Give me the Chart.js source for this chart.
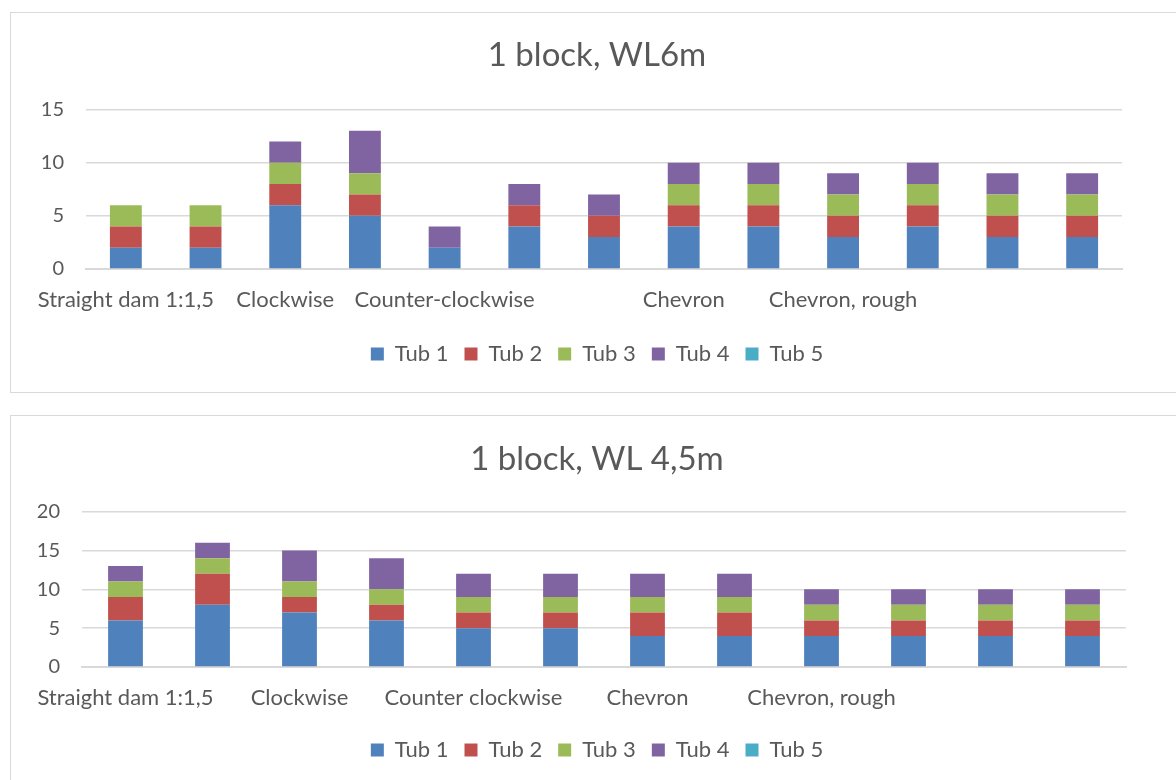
<!DOCTYPE html>
<html>
<head>
<meta charset="utf-8">
<script src="https://cdn.jsdelivr.net/npm/chart.js@4"></script>
<style>
  html, body { margin: 0; padding: 0; background: #fff; overflow: hidden; }
  .box { position: absolute; left: 10px; width: 1172px; border: 1px solid #d9d9d9; background: #fff; }
  #box1 { top: 12px; height: 379px; }
  #box2 { top: 415px; height: 372px; }
</style>
</head>
<body>
<div class="box" id="box1"><canvas class="chart"></canvas></div>
<div class="box" id="box2"><canvas class="chart"></canvas></div>
<script>
var seriesNames = ["Tub 1", "Tub 2", "Tub 3", "Tub 4", "Tub 5"];
var seriesColors = ["#4f81bd", "#c0504d", "#9bbb59", "#8064a2", "#4bacc6"];

// WL 6m
var categories6 = ["Straight dam 1:1,5", "", "Clockwise", "", "Counter-clockwise", "", "", "Chevron", "", "Chevron, rough", "", "", ""];
var tub1_6 = [2, 2, 6, 5, 2, 4, 3, 4, 4, 3, 4, 3, 3];
var tub2_6 = [2, 2, 2, 2, 0, 2, 2, 2, 2, 2, 2, 2, 2];
var tub3_6 = [2, 2, 2, 2, 0, 0, 0, 2, 2, 2, 2, 2, 2];
var tub4_6 = [0, 0, 2, 4, 2, 2, 2, 2, 2, 2, 2, 2, 2];
var tub5_6 = [0, 0, 0, 0, 0, 0, 0, 0, 0, 0, 0, 0, 0];

// WL 4,5m
var categories45 = ["Straight dam 1:1,5", "", "Clockwise", "", "Counter clockwise", "", "Chevron", "", "Chevron, rough", "", "", ""];
var tub1_45 = [6, 8, 7, 6, 5, 5, 4, 4, 4, 4, 4, 4];
var tub2_45 = [3, 4, 2, 2, 2, 2, 3, 3, 2, 2, 2, 2];
var tub3_45 = [2, 2, 2, 2, 2, 2, 2, 2, 2, 2, 2, 2];
var tub4_45 = [2, 2, 4, 4, 3, 3, 3, 3, 2, 2, 2, 2];
var tub5_45 = [0, 0, 0, 0, 0, 0, 0, 0, 0, 0, 0, 0];

var textColor = "#595959";
var gridColor = "#d9d9d9";
var fontFamily = "Lato, 'Noto Sans', sans-serif";

Chart.defaults.animation = false;
Chart.defaults.font.family = fontFamily;
Chart.defaults.color = textColor;

function makeChart(canvas, title, labels, series, yMax, yWidth, rightWidth, titlePad, xHeight) {
  return new Chart(canvas, {
    type: "bar",
    data: {
      labels: labels,
      datasets: series.map((values, i) => ({
        label: seriesNames[i],
        data: values,
        backgroundColor: seriesColors[i],
        borderWidth: 0,
        barPercentage: 0.8,
        categoryPercentage: 0.5
      }))
    },
    options: {
      responsive: true,
      maintainAspectRatio: false,
      layout: { padding: { left: 0, right: 0, top: 0, bottom: 17 } },
      plugins: {
        title: {
          display: true,
          text: title,
          color: textColor,
          font: { size: 33, weight: "normal" },
          padding: titlePad
        },
        legend: {
          position: "bottom",
          labels: { boxWidth: 13, boxHeight: 13, padding: 16, font: { size: 22 }, color: textColor }
        },
        tooltip: { enabled: false }
      },
      scales: {
        x: {
          stacked: true,
          grid: { display: false, drawTicks: false },
          border: { color: gridColor, width: 2 },
          ticks: { autoSkip: false, maxRotation: 0, padding: 18, font: { size: 22 }, color: textColor },
          afterFit: function(scale) { scale.height = xHeight; }
        },
        y: {
          stacked: true,
          min: 0,
          max: yMax,
          grid: { color: gridColor, lineWidth: 1.5, drawTicks: false },
          border: { display: false },
          ticks: { stepSize: 5, padding: 22, font: { size: 20 }, color: textColor },
          afterFit: function(scale) { scale.width = yWidth; }
        },
        // empty right-hand margin of the plot area
        yRight: {
          position: "right",
          min: 0,
          max: yMax,
          grid: { display: false, drawTicks: false },
          border: { display: false },
          ticks: { display: false },
          afterFit: function(scale) { scale.width = rightWidth; }
        }
      }
    }
  });
}

var canvases = document.getElementsByClassName("chart");
makeChart(canvases[0], "1 block, WL6m", categories6, [tub1_6, tub2_6, tub3_6, tub4_6, tub5_6], 15, 75, 61, { top: 23, bottom: 34 }, 58);
makeChart(canvases[1], "1 block, WL 4,5m", categories45, [tub1_45, tub2_45, tub3_45, tub4_45, tub5_45], 20, 71, 57, { top: 24, bottom: 32 }, 56);
</script>
</body>
</html>
